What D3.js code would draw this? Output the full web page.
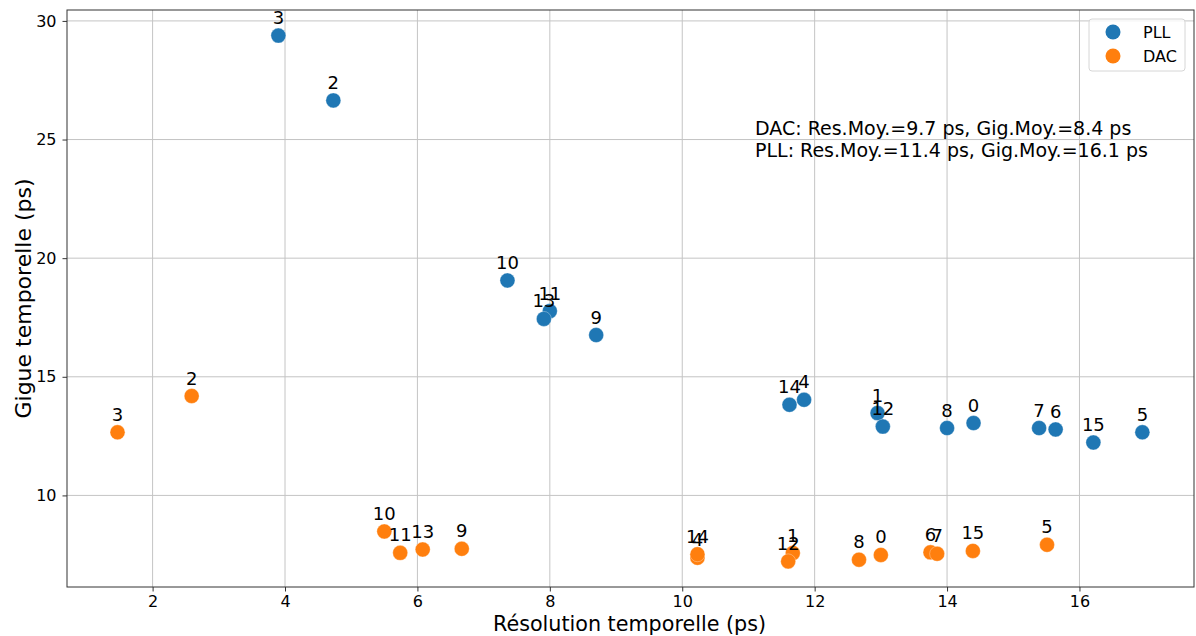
<!DOCTYPE html>
<html lang="fr">
<head>
<meta charset="UTF-8">
<script src="https://d3js.org/d3.v7.min.js"></script>
<title>Gigue vs résolution</title>
<style>
  body { margin: 0; background: #fff; }
  text { font-family: "DejaVu Sans", sans-serif; fill: #000; }
</style>
</head>
<body>
<script>
// données
var pllIds = [0, 1, 2, 3, 4, 5, 6, 7, 8, 9, 10, 11, 12, 13, 14, 15];
var pllRes = [14.40, 12.95, 4.73, 3.90, 11.84, 16.95, 15.64, 15.39, 14.00, 8.70, 7.36, 8.00, 13.03, 7.91, 11.62, 16.21];
var pllGig = [13.05, 13.47, 26.65, 29.38, 14.03, 12.66, 12.78, 12.84, 12.84, 16.76, 19.06, 17.77, 12.90, 17.44, 13.82, 12.23];

var dacIds = [0, 1, 2, 3, 4, 5, 6, 7, 8, 9, 10, 11, 12, 13, 14, 15];
var dacRes = [13.00, 11.67, 2.59, 1.47, 10.23, 15.51, 13.75, 13.85, 12.67, 6.67, 5.50, 5.74, 11.60, 6.08, 10.23, 14.39];
var dacGig = [7.49, 7.57, 14.19, 12.66, 7.37, 7.92, 7.60, 7.54, 7.29, 7.75, 8.48, 7.58, 7.22, 7.72, 7.52, 7.66];

var xTicks = [2, 4, 6, 8, 10, 12, 14, 16];
var yTicks = [10, 15, 20, 25, 30];
var seriesNames = ["PLL", "DAC"];
var seriesColors = ["#1f77b4", "#ff7f0e"];
var notes = ["DAC: Res.Moy.=9.7 ps, Gig.Moy.=8.4 ps", "PLL: Res.Moy.=11.4 ps, Gig.Moy.=16.1 ps"];

var W = 1196, H = 636;
var m = {left: 67, right: 1194, top: 10, bottom: 587};

var x = d3.scaleLinear().domain([0.707, 17.73]).range([m.left, m.right]);
var y = d3.scaleLinear().domain([6.14, 30.46]).range([m.bottom, m.top]);

var svg = d3.select("body").append("svg").attr("width", W).attr("height", H);

// grille
svg.append("g").selectAll("line").data(xTicks).enter().append("line")
  .attr("x1", d => x(d)).attr("x2", d => x(d))
  .attr("y1", m.top).attr("y2", m.bottom)
  .attr("stroke", "#c4c4c4").attr("stroke-width", 1);
svg.append("g").selectAll("line").data(yTicks).enter().append("line")
  .attr("y1", d => y(d)).attr("y2", d => y(d))
  .attr("x1", m.left).attr("x2", m.right)
  .attr("stroke", "#c4c4c4").attr("stroke-width", 1);

// axes
var xAxis = svg.append("g").attr("transform", "translate(0," + m.bottom + ")")
  .call(d3.axisBottom(x).tickValues(xTicks).tickSize(4.5).tickPadding(4));
var yAxis = svg.append("g").attr("transform", "translate(" + m.left + ",0)")
  .call(d3.axisLeft(y).tickValues(yTicks).tickSize(4.5).tickPadding(6));
[xAxis, yAxis].forEach(function (g) {
  g.select(".domain").remove();
  g.selectAll("text").attr("font-size", 16).attr("font-family", "DejaVu Sans").attr("fill", "#222");
  g.selectAll("line").attr("stroke", "#333");
});

svg.append("rect").attr("x", m.left).attr("y", m.top)
  .attr("width", m.right - m.left).attr("height", m.bottom - m.top)
  .attr("fill", "none").attr("stroke", "#333").attr("stroke-width", 1);

// points
function drawSeries(ids, xs, ys, color) {
  var pts = ids.map(function (id, i) { return {id: id, x: xs[i], y: ys[i]}; });
  var g = svg.append("g");
  g.selectAll("circle").data(pts).enter().append("circle")
    .attr("cx", d => x(d.x)).attr("cy", d => y(d.y)).attr("r", 7.5)
    .attr("fill", color).attr("stroke", "#fff").attr("stroke-opacity", 0.4).attr("stroke-width", 0.8);
  return pts;
}
var pll = drawSeries(pllIds, pllRes, pllGig, seriesColors[0]);
var dac = drawSeries(dacIds, dacRes, dacGig, seriesColors[1]);

// étiquettes
pll.concat(dac).forEach(function (d) {
  svg.append("text").attr("x", x(d.x)).attr("y", y(d.y) - 11.5)
    .attr("text-anchor", "middle").attr("font-size", 18).text(d.id);
});

// texte des moyennes
notes.forEach(function (t, i) {
  svg.append("text").attr("x", 755).attr("y", 135 + i * 22).attr("font-size", 19).text(t);
});

// légende
var lg = svg.append("g");
lg.append("rect").attr("x", 1089).attr("y", 19).attr("width", 96).attr("height", 52)
  .attr("rx", 3).attr("fill", "#fff").attr("fill-opacity", 0.8).attr("stroke", "#d6d6d6");
seriesNames.forEach(function (n, i) {
  lg.append("circle").attr("cx", 1113).attr("cy", 32 + i * 24).attr("r", 7.5).attr("fill", seriesColors[i]);
  lg.append("text").attr("x", 1143).attr("y", 38 + i * 24).attr("font-size", 16).text(n);
});

// titres des axes
svg.append("text").attr("x", 629.5).attr("y", 631)
  .attr("text-anchor", "middle").attr("font-size", 20.7).text("Résolution temporelle (ps)");
svg.append("text").attr("transform", "translate(31," + ((m.top + m.bottom) / 2) + ") rotate(-90)")
  .attr("text-anchor", "middle").attr("font-size", 22).text("Gigue temporelle (ps)");
</script>
</body>
</html>
